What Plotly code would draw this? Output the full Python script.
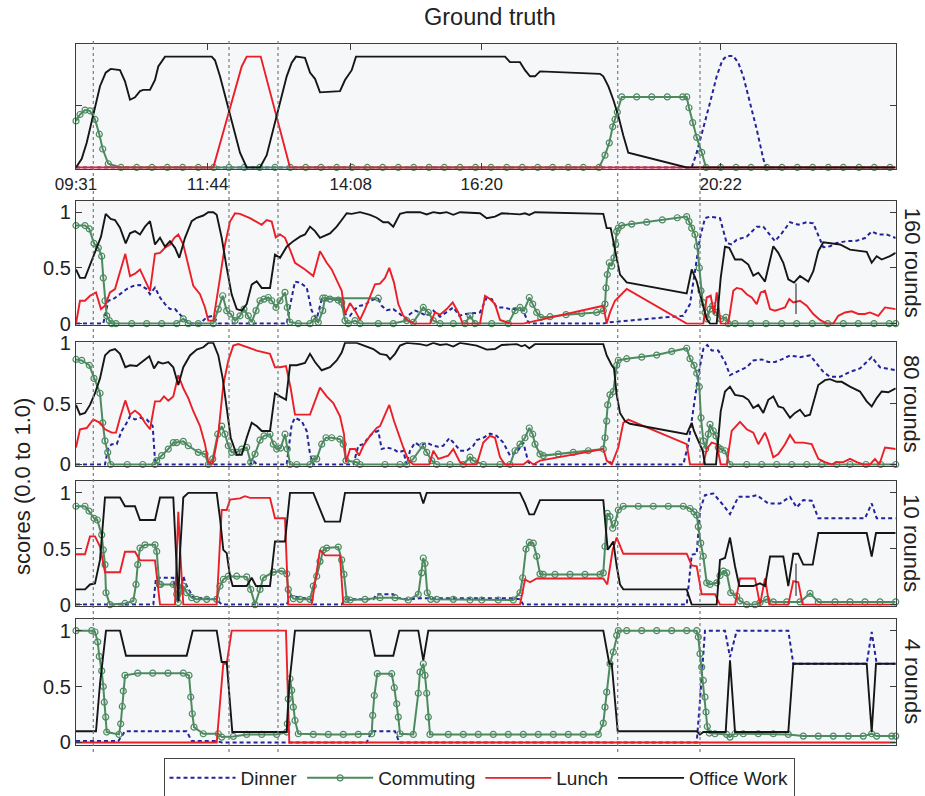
import plotly.graph_objects as go

# ---------------- axis / label data ----------------
TICK_POS = [0, 131.7, 274.7, 405.7, 644.7]
TICK_LABELS = ["09:31", "11:44", "14:08", "16:20", "20:22"]
EVENT_T = [17.3, 153, 202, 541.7, 624]
T_END = 819.7
SERIES = ["Dinner", "Commuting", "Lunch", "Office Work"]
PANEL_LABELS = ["", "160 rounds", "80 rounds", "10 rounds", "4 rounds"]

# ---------------- Ground truth ----------------
gt_dinner = [(0, 0), (615.7, 0), (620.7, 0.12), (627.3, 0.31), (634, 0.525), (640.7, 0.74), (646.3, 0.87),
             (650.7, 0.905), (657.3, 0.905), (662.3, 0.85), (667.3, 0.74), (674, 0.525), (680.7, 0.31),
             (687.3, 0.07), (690, 0), (819.7, 0)]
gt_comm = [(0, 0.378), (4, 0.43), (9, 0.466), (14, 0.46), (19, 0.39), (23.3, 0.27), (26.7, 0.15), (32.3, 0.03),
           (45, 0), (60.7, 0), (76, 0), (91.3, 0), (106.7, 0), (122.3, 0), (137.7, 0), (153, 0), (168.3, 0),
           (183.7, 0), (199, 0), (214.3, 0), (229.7, 0), (245, 0), (260.7, 0), (276, 0), (291.3, 0), (306.7, 0),
           (322.3, 0), (337.7, 0), (353, 0), (368.3, 0), (384, 0), (399.5, 0), (415, 0), (430.7, 0), (446.3, 0),
           (461.7, 0), (476.7, 0), (492.3, 0), (507.3, 0), (523, 0), (529, 0.1), (533.3, 0.2), (536.7, 0.33),
           (539, 0.39), (541.3, 0.45), (545.7, 0.573), (560.7, 0.573), (575.7, 0.573), (591.3, 0.573),
           (606.7, 0.573), (610.7, 0.573), (613, 0.485), (616.7, 0.364), (620.7, 0.244), (625.7, 0.123),
           (630, 0), (644.7, 0), (660, 0), (675, 0), (690.7, 0), (706, 0), (721.3, 0), (736.7, 0), (752.3, 0),
           (767.3, 0), (783, 0), (798.3, 0), (814, 0)]
gt_lunch = [(0, 0), (137.3, 0), (165.7, 0.82), (170.7, 0.9), (184.7, 0.9), (214, 0), (819.7, 0)]
gt_office = [(0, 0), (5.7, 0.07), (10.7, 0.2), (17.3, 0.42), (24, 0.66), (29.7, 0.77), (34.7, 0.8), (44, 0.79),
             (49, 0.7), (54, 0.55), (59, 0.57), (64, 0.62), (67.3, 0.63), (74, 0.63), (79, 0.71), (82.3, 0.82),
             (89, 0.9), (135.7, 0.9), (139, 0.87), (144, 0.74), (150.7, 0.53), (157.3, 0.31), (164, 0.12),
             (170.7, 0), (184, 0), (190.7, 0.1), (197.3, 0.31), (204, 0.53), (210.7, 0.74), (215.7, 0.85),
             (220, 0.9), (229, 0.89), (234, 0.77), (239, 0.72), (244, 0.61), (264, 0.62), (269, 0.71),
             (275.7, 0.79), (280, 0.9), (429, 0.9), (434, 0.855), (444, 0.855), (449, 0.79), (454, 0.74),
             (459, 0.74), (464, 0.78), (524, 0.76), (527.3, 0.74), (532.3, 0.66), (537.3, 0.55), (542.3, 0.42),
             (547.3, 0.26), (552.3, 0.12), (610.7, 0), (819.7, 0)]

# ---------------- 160 rounds ----------------
p160_dinner = [(0, 0), (27.3, 0), (32.3, 0.205), (37.3, 0.22), (44, 0.264), (50.7, 0.31), (57.3, 0.338), (64, 0.347),
               (70.7, 0.31), (74, 0.264), (79, 0.323), (84, 0.234), (89, 0.175), (94, 0.13), (99, 0.13),
               (104, 0.086), (109, 0.033), (114, 0), (124, 0), (130.7, 0.056), (137.3, 0.07), (142.3, 0),
               (210.7, 0), (215.7, 0.234), (219, 0.377), (224, 0.368), (230.7, 0.323), (235.7, 0.116),
               (240.7, 0.042), (245.7, 0.22), (250.7, 0.21), (257.3, 0.22), (264, 0.21), (269, 0.086), (274, 0.07),
               (279, 0.13), (284, 0.16), (289, 0.166), (294, 0.205), (299, 0.22), (302.3, 0.22), (305.7, 0.16),
               (310.7, 0.12), (317.3, 0.13), (324, 0.086), (329, 0.042), (334, 0.086), (339, 0.116), (344, 0.1),
               (350.7, 0.07), (357.3, 0.116), (364, 0.062), (370.7, 0.1), (377.3, 0.145), (383.3, 0.07),
               (389, 0.086), (394, 0.09), (404, 0.1), (410.7, 0.234), (415.7, 0.22), (420.7, 0.145), (427.3, 0.145),
               (434, 0.13), (440.7, 0.13), (447.3, 0.116), (451.3, 0.027), (454, 0), (527.3, 0), (534, 0.012),
               (594, 0.056), (607.3, 0.07), (614, 0.175), (619, 0.47), (624, 0.77), (629, 0.946), (634, 0.96),
               (644, 0.946), (650.7, 0.723), (655.7, 0.71), (660.7, 0.753), (670.7, 0.78), (680.7, 0.87),
               (687.3, 0.87), (692.3, 0.81), (699, 0.74), (705.7, 0.81), (714, 0.91), (722.3, 0.887), (730.7, 0.91),
               (737.3, 0.9), (742.3, 0.8), (747.3, 0.685), (754, 0.694), (760.7, 0.723), (770.7, 0.74),
               (780.7, 0.744), (789, 0.768), (795.7, 0.827), (802.3, 0.8), (810.7, 0.8), (819.7, 0.768)]
p160_comm = [(0, 0.88), (9, 0.88), (13.3, 0.85), (18, 0.72), (22.3, 0.68), (25.7, 0.605), (27.3, 0.41), (29, 0.205),
             (30.7, 0.07), (33.3, 0.027), (35.7, 0), (40, 0), (55.7, 0), (70.7, 0), (85.7, 0), (100.7, 0),
             (107.3, 0.042), (112.3, 0), (122.3, 0), (137.3, 0), (142.3, 0.13), (146.7, 0.25), (150.7, 0.116),
             (154.7, 0.086), (159, 0.027), (164, 0.07), (168, 0.13), (172.3, 0.07), (175.7, 0.012), (180, 0.116),
             (184, 0.205), (188, 0.22), (192.3, 0.234), (195.7, 0.205), (200, 0.145), (204, 0.205), (209, 0.28),
             (211.3, 0.145), (214, 0.012), (222.3, 0), (234, 0), (238.3, 0.042), (242.3, 0.012), (246.7, 0.116),
             (249, 0.228), (254, 0.22), (262.3, 0.21), (265.7, 0.19), (269, 0.027), (272.3, 0), (279, 0.027),
             (284, 0), (302.3, 0), (317.3, 0), (330.7, 0.027), (337.3, 0.012), (347.3, 0.145), (352.3, 0.1),
             (357.3, 0.027), (364, 0), (377.3, 0), (389, 0), (394, 0.07), (399, 0), (415.7, 0), (432.3, 0),
             (439, 0.116), (444, 0.145), (448, 0.116), (453.3, 0.234), (456.7, 0.175), (460.7, 0.1),
             (464.7, 0.056), (474, 0.062), (490, 0.08), (505.7, 0.092), (520.7, 0.1), (527.3, 0.116),
             (529, 0.175), (530, 0.32), (531.3, 0.44), (533.3, 0.546), (535.7, 0.516), (538, 0.59), (539.7, 0.71),
             (540.7, 0.827), (542.3, 0.857), (545.7, 0.88), (555.7, 0.893), (570.7, 0.91), (586.3, 0.93),
             (601.3, 0.95), (610.7, 0.96), (613, 0.916), (615.7, 0.857), (619, 0.8), (621.3, 0.694), (623.3, 0.5),
             (625, 0.294), (626.7, 0.19), (629, 0.1), (631.3, 0.042), (634, 0.13), (636.7, 0.16), (640, 0.1),
             (644.7, 0.042), (650, 0.056), (652.3, 0), (659, 0), (674.7, 0), (690, 0), (705.7, 0), (720.7, 0),
             (736.3, 0), (751.7, 0), (767.3, 0), (782.3, 0), (798, 0), (813.3, 0), (819.7, 0),
             (None, None), (246.7, 0.228), (302.3, 0.228)]
p160_lunch = [(0, 0), (4, 0.205), (9, 0.205), (14, 0.25), (20, 0.28), (25, 0.13), (29, 0.16), (34, 0.28), (39, 0.31),
              (44, 0.457), (49.3, 0.626), (54, 0.427), (59, 0.448), (64, 0.486), (69, 0.397), (74, 0.294),
              (79, 0.626), (84, 0.635), (89, 0.68), (94, 0.71), (98.3, 0.77), (102.3, 0.8), (107.3, 0.71),
              (112.3, 0.53), (117.3, 0.338), (124, 0.264), (129, 0.145), (132.3, 0.027), (137.3, 0.027),
              (144, 0.41), (149, 0.71), (154, 0.916), (159, 0.99), (164, 0.985), (174, 0.946), (185.7, 0.887),
              (190.7, 0.93), (195.7, 0.916), (199.7, 0.774), (204, 0.8), (209, 0.77), (214, 0.664), (219, 0.546),
              (229, 0.486), (237.3, 0.427), (244, 0.65), (250.7, 0.546), (255.7, 0.486), (260.7, 0.383),
              (265.7, 0.294), (269, 0.086), (274, 0.184), (279, 0.116), (284, 0.033), (289, 0.13), (294, 0.25),
              (299, 0.353), (304, 0.359), (309, 0.41), (313.3, 0.5), (318, 0.368), (322.3, 0.175), (327.3, 0.07),
              (332.3, 0.027), (337.3, 0), (354, 0), (359, 0.1), (364, 0.08), (370.7, 0.13), (376.7, 0.19),
              (382.3, 0.1), (386.7, 0), (404, 0), (409, 0.25), (414, 0.22), (419, 0.175), (424, 0.033),
              (430.7, 0.012), (434, 0), (447.3, 0), (527.3, 0.16), (530.7, 0), (534, 0.1), (539, 0.205),
              (550.7, 0.31), (610.7, 0), (627.3, 0), (630.7, 0.234), (634.7, 0.25), (638, 0.086), (640.7, 0.28),
              (644.7, 0), (652.3, 0), (657.3, 0.294), (660.7, 0.32), (665.7, 0.31), (670.7, 0.264),
              (675.7, 0.234), (680.7, 0.175), (684.7, 0.28), (689, 0.294), (694, 0.13), (699, 0.116), (704, 0.13),
              (709, 0.145), (713.3, 0.22), (717.3, 0.19), (724, 0.205), (730.7, 0.16), (737.3, 0.086),
              (744, 0.033), (750.7, 0), (757.3, 0), (762.3, 0.07), (769, 0.1), (775.7, 0.11), (782.3, 0.086),
              (789, 0.086), (794, 0.1), (802.3, 0.07), (809, 0.145), (819.7, 0.13)]
p160_office = [(0, 0.486), (4, 0.41), (9, 0.41), (14, 0.53), (19, 0.65), (25, 0.78), (29.7, 0.985), (34.7, 0.94),
               (39, 0.93), (44, 0.86), (49.7, 0.72), (54, 0.81), (59, 0.83), (64, 0.8), (69, 0.87), (74, 0.92),
               (79, 0.71), (84, 0.77), (89, 0.69), (94, 0.74), (99, 0.68), (103.3, 0.59), (109, 0.77),
               (115.7, 0.92), (120.7, 0.95), (127.3, 0.97), (132.3, 1.0), (137.3, 1.0), (140.7, 0.976),
               (145.7, 0.77), (150.7, 0.5), (155.7, 0.26), (160.7, 0.13), (165.7, 0.116), (170.7, 0.175),
               (175.7, 0.35), (180.7, 0.38), (185.7, 0.32), (194, 0.32), (199, 0.62), (204, 0.59), (210.7, 0.69),
               (217.3, 0.74), (224, 0.78), (229, 0.8), (234, 0.87), (239, 0.83), (244, 0.77), (254, 0.81),
               (260.7, 0.87), (265.7, 0.93), (270.7, 0.99), (275.7, 0.985), (284, 1.0), (294, 0.976),
               (300.7, 0.95), (307.3, 0.91), (312.3, 0.91), (317.3, 0.87), (324, 0.985), (330.7, 1.0), (344, 1.0),
               (350.7, 0.98), (357.3, 1.0), (364, 0.99), (370.7, 1.0), (377.3, 0.976), (384, 1.0), (404, 0.99),
               (410.7, 0.946), (419, 0.96), (425.7, 0.99), (444, 0.98), (449, 0.99), (453.3, 0.976), (459, 1.0),
               (527.3, 0.985), (530.7, 0.857), (534.7, 0.857), (538, 0.71), (540.7, 0.56), (544, 0.44),
               (550.7, 0.37), (610.7, 0.27), (615.7, 0.486), (620.7, 0.38), (624, 0.264), (627.3, 0.145),
               (630.7, 0.04), (634, 0), (640.7, 0), (644.7, 0.41), (649, 0.69), (653.3, 0.68), (659, 0.575),
               (665.7, 0.575), (672.3, 0.53), (677.3, 0.43), (682.3, 0.457), (689, 0.377), (697.3, 0.694),
               (702.3, 0.635), (707.3, 0.546), (712.3, 0.397), (718, 0.368), (724, 0.427), (732.3, 0.377),
               (737.3, 0.47), (742.3, 0.65), (747.3, 0.73), (754, 0.72), (764, 0.71), (774, 0.664), (784, 0.65),
               (790.7, 0.644), (795.7, 0.546), (800.7, 0.605), (805.7, 0.575), (814, 0.605), (819.7, 0.635)]
p160_mark = [(720, 0.36), (720, 0.086)]

# ---------------- 80 rounds ----------------
p80_dinner = [(0, 0), (29, 0), (32.3, 0.14), (35.7, 0.167), (40.7, 0.167), (45.7, 0.276), (50.7, 0.343), (54, 0.397),
              (59, 0.37), (64, 0.384), (70.7, 0.37), (76.7, 0.316), (79, 0.032), (80.7, 0), (174, 0),
              (177.3, 0.032), (180.7, 0), (210.7, 0), (215.7, 0.33), (219, 0.384), (225.7, 0.357), (230.7, 0.276),
              (234, 0.086), (237.3, 0), (277.3, 0), (282.3, 0.154), (287.3, 0.167), (292.3, 0.22), (297.3, 0.262),
              (302.3, 0.276), (305.7, 0.127), (310.7, 0.14), (317.3, 0.127), (322.3, 0.1), (327.3, 0.113),
              (330.7, 0), (334, 0.113), (339, 0.18), (344, 0.154), (350.7, 0.18), (357.3, 0.154), (362.3, 0.146),
              (367.3, 0.154), (373.3, 0.216), (379, 0.167), (384, 0.113), (390.7, 0.113), (397.3, 0.154),
              (400.7, 0.2), (407.3, 0.22), (414, 0.254), (420.7, 0.235), (427.3, 0.18), (434, 0.073),
              (440.7, 0.1), (447.3, 0.18), (452.3, 0.019), (455.7, 0), (527.3, 0), (534, 0.019), (537.3, 0),
              (607.3, 0), (612.3, 0.167), (617.3, 0.437), (622.3, 0.735), (627.3, 0.95), (631.3, 0.983),
              (635.7, 0.937), (642.3, 0.937), (649, 0.843), (654, 0.735), (660.7, 0.762), (670.7, 0.8),
              (677.3, 0.856), (685.7, 0.864), (692.3, 0.843), (699, 0.843), (705.7, 0.864), (714, 0.897),
              (724, 0.883), (734, 0.897), (740.7, 0.83), (747.3, 0.762), (754, 0.721), (764, 0.721), (774, 0.762),
              (784, 0.79), (790.7, 0.843), (795.7, 0.883), (804, 0.8), (819.7, 0.775)]
p80_comm = [(0, 0.864), (5.7, 0.856), (13.3, 0.816), (18, 0.708), (24, 0.586), (26.7, 0.343), (29, 0.194),
            (31.7, 0.1), (34.7, 0), (51.3, 0), (66.7, 0), (79, 0), (80.7, 0.032), (85.7, 0.073), (92.3, 0.127),
            (97.3, 0.18), (100.7, 0.18), (107.3, 0.19), (112.3, 0.154), (122.3, 0.1), (129, 0.086), (132.3, 0),
            (136.7, 0.046), (141.7, 0.249), (145.7, 0.316), (149, 0.249), (152.3, 0.154), (155.7, 0.1),
            (160.7, 0.1), (165.7, 0.127), (170.7, 0.14), (174.7, 0.019), (179, 0.086), (184, 0.2), (188, 0.235),
            (194, 0.249), (197.3, 0.167), (200.7, 0.127), (204.7, 0.135), (209, 0.249), (211.3, 0.127), (214, 0),
            (220.7, 0), (234, 0), (237.3, 0.046), (240.7, 0.046), (245.7, 0.167), (250, 0.22), (255.7, 0.22),
            (264, 0.208), (267.3, 0.167), (270, 0.032), (280.7, 0.019), (284, 0), (309, 0), (324, 0), (330.7, 0),
            (337.3, 0.046), (346.7, 0.154), (350.7, 0.1), (355.7, 0.032), (360.7, 0), (374, 0), (387.3, 0),
            (394, 0.06), (397.3, 0.032), (407.3, 0), (424, 0), (434, 0), (439, 0.113), (444, 0.167), (449, 0.22),
            (453.3, 0.3), (456.7, 0.249), (459, 0.167), (464, 0.086), (467.3, 0.073), (482.3, 0.086),
            (497.3, 0.1), (512.3, 0.113), (527.3, 0.127), (529, 0.22), (530.7, 0.357), (531.7, 0.49),
            (534, 0.573), (537.3, 0.6), (540.7, 0.816), (542.3, 0.856), (550.7, 0.87), (565.7, 0.883),
            (580.7, 0.9), (595.7, 0.93), (610.7, 0.956), (614, 0.87), (618, 0.816), (620.7, 0.75), (623.3, 0.64),
            (625, 0.384), (627.3, 0.194), (629.7, 0.127), (632.3, 0.249), (634, 0.33), (637.3, 0.276),
            (640, 0.235), (642.3, 0.14), (644.7, 0.127), (649, 0.113), (654, 0), (670.7, 0), (685.7, 0),
            (700.7, 0), (715.7, 0), (730.7, 0), (745.7, 0), (760.7, 0), (774, 0), (790, 0), (804.7, 0),
            (819.7, 0)]
p80_lunch = [(0, 0.14), (4, 0.29), (10.7, 0.3), (17.3, 0.37), (24, 0.343), (29, 0.29), (35.7, 0.262), (40, 0.262),
             (44, 0.384), (49.3, 0.527), (54, 0.41), (59, 0.443), (64, 0.41), (69, 0.343), (74, 0.29), (79, 0.519),
             (84, 0.519), (88, 0.56), (92.3, 0.524), (97.3, 0.56), (102.3, 0.735), (107.3, 0.627), (112.3, 0.546),
             (117.3, 0.438), (124, 0.316), (129, 0.167), (132.3, 0.019), (136.7, 0.005), (142.3, 0.249),
             (147.3, 0.654), (152.3, 0.856), (157.3, 0.978), (162.3, 0.99), (170.7, 0.964), (180.7, 0.937),
             (194, 0.91), (199, 0.8), (204, 0.8), (210, 0.81), (214.7, 0.627), (219, 0.41), (234, 0.41),
             (244, 0.632), (250.7, 0.56), (257.3, 0.505), (264, 0.397), (268, 0.249), (270, 0.019), (274, 0.127),
             (279, 0.127), (283, 0.073), (287.3, 0.154), (294, 0.235), (300.7, 0.3), (304, 0.316), (309, 0.41),
             (313.3, 0.49), (318, 0.357), (322.3, 0.249), (327.3, 0.14), (332.3, 0.038), (337.3, 0), (353.3, 0),
             (357.3, 0.113), (362.3, 0.046), (367.3, 0.06), (372.3, 0.073), (377.3, 0.127), (384, 0.019),
             (389, 0), (400.7, 0), (407.3, 0.18), (414, 0.235), (419, 0.22), (424, 0.06), (429, 0), (447.3, 0),
             (452.3, 0.032), (457.3, 0), (464, 0.032), (527.3, 0.127), (530.7, 0.032), (535.7, 0),
             (542.3, 0.14), (547.3, 0.343), (552.3, 0.37), (610.7, 0.167), (614, 0), (627.3, 0), (630.7, 0.127),
             (635.7, 0.18), (640.7, 0.167), (644.7, 0), (650.7, 0), (655.7, 0.276), (664, 0.35), (670.7, 0.29),
             (677.3, 0.262), (682.3, 0.167), (689, 0.262), (692.3, 0.194), (697.3, 0.06), (702.3, 0.086),
             (709, 0.167), (714, 0.243), (719, 0.18), (727.3, 0.18), (735.7, 0.167), (742.3, 0.046),
             (749, 0.019), (755.7, 0), (760.7, 0.019), (767.3, 0.019), (774, 0.046), (780.7, 0.019), (787.3, 0),
             (794, 0), (799, 0.046), (803.3, 0), (809, 0.14), (819.7, 0.127)]
p80_office = [(0, 0.49), (4, 0.41), (9, 0.424), (14, 0.49), (19, 0.586), (24, 0.708), (29, 0.897), (34, 0.937),
              (39, 0.95), (44, 0.91), (49.3, 0.8), (54, 0.816), (60.7, 0.81), (67.3, 0.856), (73.3, 0.89),
              (78, 0.79), (82.3, 0.843), (86.7, 0.83), (92.3, 0.843), (97.3, 0.8), (102.3, 0.654), (107.3, 0.8),
              (114, 0.897), (120.7, 0.945), (127.3, 0.964), (132.3, 1.0), (137.3, 1.0), (142.3, 0.897),
              (146.7, 0.708), (150.7, 0.465), (154.7, 0.22), (160.7, 0.08), (165.7, 0.08), (170.7, 0.22),
              (175.7, 0.343), (180.7, 0.316), (185.7, 0.276), (194, 0.276), (199, 0.586), (204, 0.56),
              (210, 0.532), (214, 0.816), (220.7, 0.816), (229, 0.835), (234, 0.91), (239, 0.843),
              (245.7, 0.775), (254, 0.8), (260.7, 0.856), (265.7, 0.92), (269, 1.0), (280.7, 1.0), (289, 0.978),
              (297.3, 0.95), (304, 0.91), (310.7, 0.9), (314, 0.865), (319, 0.91), (324, 0.978), (330.7, 1.0),
              (344, 0.99), (350.7, 0.978), (357.3, 1.0), (364, 0.983), (370.7, 0.99), (377.3, 0.97), (384, 1.0),
              (394, 0.99), (400.7, 0.978), (410.7, 0.945), (419, 0.95), (425.7, 0.983), (440.7, 0.99),
              (445.7, 0.972), (449, 0.983), (453.3, 0.956), (459, 0.99), (527.3, 0.99), (530.7, 0.897),
              (535.7, 0.816), (538, 0.79), (540.7, 0.573), (544, 0.424), (549, 0.357), (554, 0.335),
              (610.7, 0.249), (615.7, 0.343), (618, 0.276), (622.3, 0.194), (626.7, 0.113), (629, 0), (640, 0),
              (644.7, 0.437), (649, 0.6), (654, 0.64), (659, 0.573), (667.3, 0.56), (672.3, 0.532),
              (677.3, 0.465), (682.3, 0.49), (687.3, 0.424), (692.3, 0.532), (697.3, 0.56), (702.3, 0.478),
              (707.3, 0.465), (714, 0.384), (719, 0.424), (724, 0.45), (729, 0.397), (734, 0.41), (742.3, 0.654),
              (749, 0.694), (754, 0.702), (760.7, 0.68), (765.7, 0.68), (774, 0.64), (784, 0.6), (790.7, 0.519),
              (795.7, 0.478), (800.7, 0.546), (805.7, 0.6), (812.3, 0.594), (819.7, 0.627)]

# ---------------- 10 rounds ----------------
p10_dinner = [(0, 0), (77.3, 0), (80, 0.24), (97.3, 0.24), (100.7, 0.018), (103.3, 0.047), (107.3, 0.254),
              (110.7, 0.166), (117.3, 0.062), (140.7, 0.047), (145.7, 0), (210.7, 0), (214.7, 0.077),
              (234.7, 0.047), (237.3, 0), (265.7, 0), (269, 0.047), (297.3, 0.047), (300.7, 0.092), (317.3, 0.092),
              (320.7, 0.062), (330.7, 0.047), (344, 0.056), (437.3, 0.056), (444, 0.047), (447.3, 0), (610.7, 0),
              (615.7, 0.447), (620.7, 0.455), (624, 0.846), (629, 0.98), (637.3, 0.994), (647.3, 0.89),
              (654, 0.81), (662.3, 0.964), (674, 0.964), (680.7, 0.98), (692.3, 0.905), (704, 0.905),
              (709, 0.935), (714, 0.964), (720.7, 0.87), (727.3, 0.935), (735.7, 0.93), (742.3, 0.772),
              (789, 0.772), (795.7, 0.905), (800.7, 0.772), (819.7, 0.772)]
p10_comm = [(0, 0.88), (9, 0.88), (13, 0.837), (18, 0.772), (21.3, 0.757), (25.7, 0.624), (27.3, 0.49), (29, 0.358),
            (30, 0.106), (34, 0), (49, 0.01), (57.3, 0.033), (60, 0.18), (61.7, 0.358), (64, 0.506), (69, 0.535),
            (79, 0.535), (80.7, 0.476), (83.3, 0.18), (84.7, 0.18), (97.3, 0.18), (100.7, 0.092), (102.3, 0.018),
            (104.7, 0.121), (107.3, 0.166), (110.7, 0.106), (115.7, 0.062), (120.7, 0.047), (130.7, 0.047),
            (140.7, 0.047), (144, 0.166), (147.3, 0.225), (152.3, 0.254), (160.7, 0.254), (170.7, 0.248),
            (174.7, 0.136), (179, 0), (184, 0.136), (187.3, 0.24), (197.3, 0.29), (205.7, 0.3), (210.7, 0.275),
            (212.3, 0.136), (217.3, 0.053), (224, 0.047), (234, 0.047), (237.3, 0.166), (240.7, 0.254),
            (244, 0.387), (247.3, 0.49), (250.7, 0.506), (262.3, 0.515), (265.7, 0.4), (268, 0.27),
            (270.7, 0.047), (274, 0.041), (289, 0.047), (304, 0.062), (319, 0.062), (332.3, 0.041),
            (342.3, 0.092), (345.7, 0.284), (347.3, 0.417), (349, 0.367), (351.3, 0.106), (354.7, 0.047),
            (360.7, 0.047), (377.3, 0.047), (394, 0.041), (405.7, 0.041), (422.3, 0.041), (437.3, 0.041),
            (444, 0.106), (446.7, 0.24), (450, 0.497), (453.3, 0.556), (457.3, 0.55), (460.7, 0.432),
            (464, 0.275), (467.3, 0.27), (479, 0.27), (494, 0.27), (509, 0.27), (524, 0.27), (527.3, 0.284),
            (529, 0.52), (531.3, 0.816), (534, 0.787), (536.7, 0.683), (539, 0.728), (542.3, 0.846),
            (547.3, 0.88), (562.3, 0.88), (577.3, 0.88), (592.3, 0.88), (607.3, 0.88), (614, 0.86), (618, 0.83),
            (620.7, 0.8), (622.3, 0.698), (624.7, 0.55), (627.3, 0.432), (630.7, 0.195), (634, 0.18),
            (640.7, 0.195), (644, 0.26), (647.3, 0.3), (650.7, 0.284), (654.7, 0.106), (660.7, 0.077),
            (664, 0.033), (670.7, 0), (679, 0), (684, 0.018), (690.7, 0.047), (697.3, 0.024), (710.7, 0.024),
            (724, 0.024), (734, 0.1), (742.3, 0.024), (759, 0.024), (774, 0.024), (789, 0.024), (804, 0.024),
            (819.7, 0.024)]
p10_lunch = [(0, 0.45), (9, 0.45), (14, 0.61), (19, 0.61), (24, 0.52), (29, 0.29), (44, 0.29), (49, 0.473),
             (59, 0.473), (64, 0.396), (79, 0.396), (84, 0), (99, 0), (102.3, 0.83), (104, 0.506), (107.3, 0),
             (140.7, 0), (145.7, 0.846), (150.7, 0.846), (154, 0.94), (164, 0.95), (169, 0.97), (174, 0.955),
             (194, 0.955), (199, 0.772), (209, 0.772), (212.3, 0), (235.7, 0), (244, 0.49), (249, 0.44),
             (264, 0.44), (267.3, 0), (444, 0), (449, 0.225), (454, 0.2), (460.7, 0.234), (527.3, 0.234),
             (531.3, 0.18), (536.7, 0.49), (540.7, 0.6), (547.3, 0.455), (610.7, 0.455), (615.7, 0.35),
             (620.7, 0.343), (625.7, 0.092), (639, 0.092), (644, 0), (659, 0), (664, 0.234), (679, 0.234),
             (684, 0), (689, 0.234), (693.3, 0), (712.3, 0), (717.3, 0.21), (722.3, 0.2), (726.7, 0), (819.7, 0)]
p10_office = [(0, 0.136), (9, 0.136), (14, 0.18), (19, 0.19), (24, 0.4), (29, 0.958), (44, 0.958), (49, 0.88),
              (59, 0.88), (64, 0.757), (79, 0.757), (84, 0.958), (97.3, 0.958), (100.7, 0.284), (102.3, 0.033),
              (104, 0.46), (107.3, 0.958), (112.3, 1.0), (140.7, 1.0), (144, 0.772), (147.3, 0.49),
              (150.7, 0.46), (154, 0.254), (156.7, 0.166), (170.7, 0.166), (175.7, 0.24), (180, 0.166),
              (194, 0.166), (199, 0.565), (209, 0.565), (214, 1.0), (237.3, 1.0), (242.3, 0.89), (249, 0.742),
              (264, 0.742), (269, 1.0), (344, 1.0), (347.3, 0.905), (350.7, 1.0), (444, 1.0), (449, 0.905),
              (453.3, 0.807), (458, 0.807), (464, 0.935), (527.3, 0.935), (529, 0.757), (531.7, 0.49),
              (534, 0.52), (537.3, 0.565), (540.7, 0.343), (544, 0.18), (547.3, 0.136), (610.7, 0.136),
              (615.7, 0), (640.7, 0), (644, 0.4), (649, 0.417), (654, 0.6), (659, 0.343), (663.3, 0.166),
              (677.3, 0.166), (684, 0.19), (689, 0.166), (694, 0.43), (707.3, 0.43), (712.3, 0.166),
              (717.3, 0.455), (722.3, 0.455), (727.3, 0.358), (736.7, 0.358), (742.3, 0.64), (790.7, 0.64),
              (795.7, 0.43), (800, 0.64), (819.7, 0.64)]
p10_mark = [(720, 0.367), (720, 0.077)]

# ---------------- 4 rounds ----------------
p4_dinner = [(0, 0.012), (42.3, 0.012), (49, 0.1), (110.7, 0.1), (115.7, 0.012), (140.7, 0.012), (145.7, 0),
             (290.7, 0), (295.7, 0.1), (319, 0.1), (323.3, 0), (620.7, 0), (624, 0.376), (629, 1.0), (649, 1.0),
             (654, 0.764), (660.7, 1.0), (712.3, 1.0), (717.3, 0.704), (790.7, 0.704), (795.7, 0.988),
             (800.7, 0.704), (819.7, 0.704)]
p4_comm = [(0, 1.0), (15.7, 1.0), (19, 0.988), (21.7, 0.9), (23.3, 0.77), (25.7, 0.64), (27.3, 0.5), (28.3, 0.36),
           (29.7, 0.227), (30.7, 0.093), (43, 0.072), (44.7, 0.167), (46.3, 0.322), (47.3, 0.46), (49, 0.6),
           (61.7, 0.62), (76.7, 0.62), (92, 0.62), (107.3, 0.62), (113, 0.6), (114.7, 0.406), (116.3, 0.257),
           (118, 0.137), (127.3, 0.078), (142.3, 0.078), (145.7, 0.048), (157.3, 0.054), (170.7, 0.072),
           (185.7, 0.072), (200.7, 0.072), (210.7, 0.093), (211.3, 0.167), (212.3, 0.39), (214, 0.57),
           (215.7, 0.466), (217.3, 0.316), (219, 0.197), (222.3, 0.078), (237.3, 0.072), (252.3, 0.072),
           (267.3, 0.072), (282.3, 0.072), (295.7, 0.078), (296.7, 0.242), (298.3, 0.42), (301.3, 0.615),
           (315.7, 0.615), (318.3, 0.49), (320.7, 0.346), (322.3, 0.227), (324, 0.078), (337.3, 0.072),
           (342.3, 0.44), (344, 0.63), (347.3, 0.704), (349, 0.6), (350.7, 0.44), (352.3, 0.227), (354, 0.072),
           (372.3, 0.072), (387.3, 0.072), (402.3, 0.072), (417.3, 0.072), (432.3, 0.072), (447.3, 0.072),
           (462.3, 0.072), (477.3, 0.072), (492.3, 0.072), (507.3, 0.072), (522.3, 0.072), (527.3, 0.173),
           (529, 0.316), (530.7, 0.45), (534, 0.704), (537.3, 0.809), (540.7, 0.958), (542.3, 1.0),
           (550.7, 1.0), (565.7, 1.0), (580.7, 1.0), (595.7, 1.0), (610.7, 1.0), (620.7, 1.0), (622.3, 0.943),
           (624, 0.794), (625.7, 0.674), (627.3, 0.555), (629, 0.406), (630, 0.272), (631.3, 0.143),
           (633.3, 0.084), (639, 0.078), (650.7, 0.072), (654, 0.048), (659, 0.078), (667.3, 0.078),
           (682.3, 0.078), (697.3, 0.078), (712.3, 0.072), (727.3, 0.057), (742.3, 0.057), (757.3, 0.057),
           (772.3, 0.057), (787.3, 0.057), (795.7, 0.078), (800.7, 0.057), (815.7, 0.057), (819.7, 0.057)]
p4_lunch = [(0, 0), (140.7, 0), (147.3, 0.704), (150.7, 0.704), (155.7, 1.0), (210, 1.0), (213.3, 0), (819.7, 0)]
p4_office = [(0, 0.1), (20, 0.1), (24, 0.525), (30, 1.0), (44, 1.0), (50, 0.776), (110.7, 0.776), (116.7, 1.0),
             (140.7, 1.0), (145.7, 0.72), (150.7, 0.72), (156.3, 0.093), (210.7, 0.093), (213.3, 0.525),
             (219, 1.0), (294, 1.0), (299, 0.776), (317.3, 0.776), (323.3, 1.0), (342.3, 1.0), (347.3, 0.734),
             (352.3, 1.0), (527.3, 1.0), (531.3, 0.794), (533.3, 0.704), (535.7, 0.704), (541.7, 0.1),
             (620.7, 0.1), (624, 0.072), (627.3, 0.093), (649.7, 0.093), (654, 0.734), (659, 0.093),
             (712.3, 0.093), (717.3, 0.704), (790.7, 0.704), (795.7, 0.093), (800, 0.704), (819.7, 0.704)]

PANELS = [
    [gt_dinner, gt_comm, gt_lunch, gt_office],
    [p160_dinner, p160_comm, p160_lunch, p160_office],
    [p80_dinner, p80_comm, p80_lunch, p80_office],
    [p10_dinner, p10_comm, p10_lunch, p10_office],
    [p4_dinner, p4_comm, p4_lunch, p4_office],
]
EXTRA_MARKS = {2: p160_mark, 4: p10_mark}

# ---------------- styling ----------------
W, H = 925, 796
FONT = "Liberation Sans, Arial, Helvetica, sans-serif"
COLORS = {"Dinner": "#23239b", "Commuting": "#4d8a60", "Lunch": "#ea1f28", "Office Work": "#161616"}
BG = "#f6f7f9"
AXC = "#3c3c3c"
X0, X1 = 76, 895.7
PANEL_PX = [(44.3, 168.7), (200.7, 324.7), (342.3, 465.7), (481, 605.7), (618.7, 744.7)]
Y_RANGES = [(-0.01, 1.0), (-0.01, 1.103), (-0.01, 1.005), (-0.01, 1.106), (-0.02, 1.107)]


def unzip(pairs):
    return [p[0] for p in pairs], [p[1] for p in pairs]


fig = go.Figure()
for i, panel in enumerate(PANELS):
    k = "" if i == 0 else str(i + 1)
    for name, pairs in zip(SERIES, panel):
        t, v = unzip(pairs)
        kw = dict(x=t, y=v, name=name, xaxis="x" + k, yaxis="y" + k,
                  legendgroup=name, showlegend=(i == 0), connectgaps=False, hoverinfo="skip")
        if name == "Dinner":
            kw.update(mode="lines", line=dict(color=COLORS[name], width=2, dash="4px,3px"))
        elif name == "Commuting":
            kw.update(mode="lines+markers", line=dict(color=COLORS[name], width=2),
                      marker=dict(symbol="circle-open", size=6, color=COLORS[name], line=dict(width=1.2)),
                      cliponaxis=False)
        else:
            kw.update(mode="lines", line=dict(color=COLORS[name], width=1.9))
        fig.add_trace(go.Scatter(**kw))
    if (i + 1) in EXTRA_MARKS:
        t, v = unzip(EXTRA_MARKS[i + 1])
        fig.add_trace(go.Scatter(x=t, y=v, mode="lines", xaxis="x" + k, yaxis="y" + k, showlegend=False,
                                 line=dict(color="#161616", width=1), hoverinfo="skip"))

layout = dict(width=W, height=H, margin=dict(l=0, r=0, t=0, b=0, autoexpand=False),
              paper_bgcolor="white", plot_bgcolor=BG,
              font=dict(family=FONT, size=17, color="#222"),
              showlegend=True,
              legend=dict(orientation="h", xref="container", yref="container",
                          x=479 / W, xanchor="center", y=1 - 758 / H, yanchor="top",
                          bordercolor="#444", borderwidth=1, bgcolor="white",
                          font=dict(size=19, family=FONT), traceorder="normal",
                          itemwidth=66))

for i in range(5):
    k = "" if i == 0 else str(i + 1)
    top, bot = PANEL_PX[i]
    xa = dict(domain=[X0 / W, X1 / W], range=[0, T_END], anchor="y" + k, automargin=False,
              showline=True, linecolor=AXC, linewidth=1.2, mirror=True,
              showgrid=False, zeroline=False)
    if i == 0:
        xa.update(tickmode="array", tickvals=TICK_POS, ticktext=TICK_LABELS, ticks="inside",
                  ticklen=6, tickcolor=AXC, mirror="ticks", tickfont=dict(size=17))
    else:
        xa.update(matches="x", showticklabels=False, ticks="")
    ya = dict(domain=[1 - bot / H, 1 - top / H], range=list(Y_RANGES[i]), anchor="x" + k, automargin=False,
              showline=True, linecolor=AXC, linewidth=1.2, mirror="ticks",
              showgrid=False, zeroline=False, ticks="inside", ticklen=6, tickcolor=AXC)
    if i == 0:
        ya.update(tickmode="array", tickvals=[0.5], showticklabels=False)
    else:
        ya.update(tickmode="array", tickvals=[0, 0.5, 1], ticktext=["0", "0.5", "1"],
                  tickfont=dict(size=20))
    layout["xaxis" + k] = xa
    layout["yaxis" + k] = ya

annotations = [dict(text="Ground truth", x=490 / W, y=1 - 17 / H, xref="paper", yref="paper",
                    showarrow=False, font=dict(size=23.5, family=FONT), xanchor="center", yanchor="middle"),
               dict(text="scores (0.0 to 1.0)", x=22 / W, y=1 - 487 / H, xref="paper", yref="paper",
                    showarrow=False, textangle=-90, font=dict(size=22, family=FONT),
                    xanchor="center", yanchor="middle")]
for i in range(1, 5):
    top, bot = PANEL_PX[i]
    annotations.append(dict(text=PANEL_LABELS[i], x=912 / W, y=1 - (top + bot) / 2 / H, xref="paper",
                            yref="paper", showarrow=False, textangle=90, font=dict(size=22, family=FONT),
                            xanchor="center", yanchor="middle"))
layout["annotations"] = annotations

layout["shapes"] = [dict(type="line", xref="x", yref="paper", x0=t, x1=t, y0=1 - 752 / H, y1=1 - 40 / H,
                         line=dict(color="#7a7a7a", width=1.2, dash="dot"), layer="above")
                    for t in EVENT_T]

fig.update_layout(**layout)
fig.write_html("out.html")
